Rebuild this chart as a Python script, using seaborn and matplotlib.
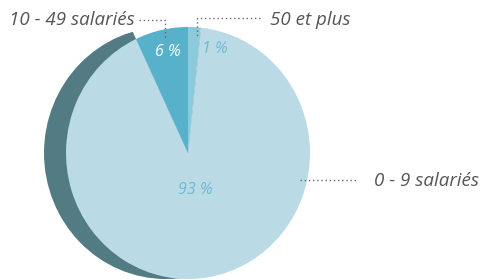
import matplotlib
matplotlib.use("Agg")
import matplotlib.pyplot as plt
from matplotlib.patches import Circle, Wedge
import seaborn as sns

# shares as drawn (clockwise from 12 o'clock) and their printed labels
categories = ["50 et plus", "0 - 9 salariés", "10 - 49 salariés"]
shares = [1.7, 91.3, 7.0]
pct_labels = ["1 %", "93 %", "6 %"]
colors = ["#8ccadb", "#badbe6", "#57b1ca"]
shadow_color = "#537b83"

sns.set_theme(style="white")
plt.rcParams["font.family"] = ["Open Sans", "DejaVu Sans"]

W, H = 482, 280
K = 1.033  # the pie in the original is a touch taller than wide
fig = plt.figure(figsize=(W / 100, H / 100), dpi=100)
ax = fig.add_axes([0, 0, 1, 1])


def Y(py):
    return (H - py) / K


cx, cy, r = 188, Y(153), 122
wedges, _ = ax.pie(shares, colors=colors, startangle=90, counterclock=False,
                   center=(cx, cy), radius=r,
                   wedgeprops=dict(linewidth=0, zorder=2))

# dark offset disc behind the big slice gives the 3-D look,
# cut to the big slice's angular sector
big = wedges[1]
shadow = Circle((cx - 22, cy), r, color=shadow_color, lw=0, zorder=1)
ax.add_patch(shadow)
sector = Wedge((cx, cy), r * 2, big.theta1, big.theta2, transform=ax.transData)
shadow.set_clip_path(sector)

ax.set_xlim(0, W)
ax.set_ylim(0, H / K)
ax.set_aspect("auto")
ax.axis("off")

txt_grey = "#555555"
pct_kw = dict(style="italic", fontsize=11.5, ha="center", va="center", zorder=5)
ax.text(215, Y(49), pct_labels[0], color="#6bbbd0", **pct_kw)
ax.text(195, Y(190), pct_labels[1], color="#6bbbd0", **pct_kw)
ax.text(168, Y(52), pct_labels[2], color="white", **pct_kw)

cat_kw = dict(style="italic", fontsize=13.5, color=txt_grey, va="center", zorder=5)
ax.text(270, Y(20), categories[0], ha="left", **cat_kw)
ax.text(374, Y(181), categories[1], ha="left", **cat_kw)
ax.text(135, Y(20), categories[2], ha="right", **cat_kw)

dot = dict(color="#666666", lw=1, ls=(0, (1, 2)), zorder=4)
ax.plot([260, 197, 197], [Y(18), Y(18), Y(38)], **dot)
ax.plot([300, 356], [Y(180), Y(180)], **dot)
ax.plot([139, 165, 165], [Y(20), Y(20), Y(38)], **dot)

fig.savefig("out.png", dpi=100)
